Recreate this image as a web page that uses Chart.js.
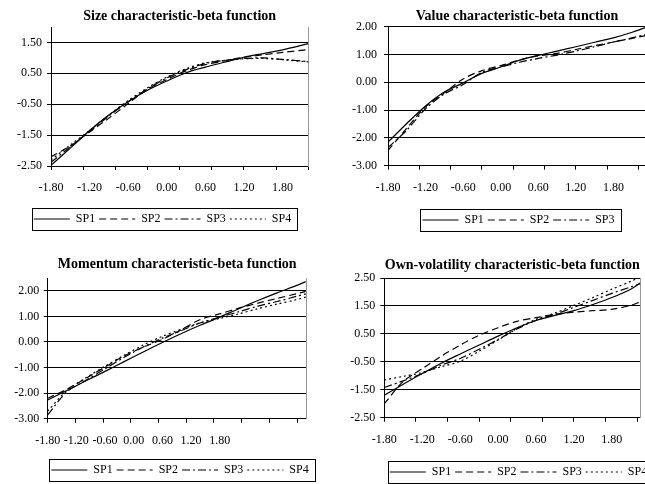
<!DOCTYPE html>
<html>
<head>
<meta charset="utf-8">
<script src="https://cdn.jsdelivr.net/npm/chart.js@4.4.1/dist/chart.umd.min.js"></script>
<style>
  html, body { margin: 0; padding: 0; background: #fff; }
  body { width: 645px; height: 484px; overflow: hidden; position: relative; }
  canvas { position: absolute; }
</style>
</head>
<body>
<canvas id="sizeChart" width="325" height="235" style="left:0;top:0"></canvas>
<canvas id="valueChart" width="393" height="236" style="left:322px;top:0"></canvas>
<canvas id="momChart" width="360" height="244" style="left:0;top:242px"></canvas>
<canvas id="volChart" width="393" height="246" style="left:322px;top:242px"></canvas>
<script>
// ---------------------- DATA ------------------------
const seriesNames = ["SP1", "SP2", "SP3", "SP4"];
const xLabels = ["-1.80", "-1.20", "-0.60", "0.00", "0.60", "1.20", "1.80"];

// Size
const sizeX   = [-1.8, -1.5, -1.2, -0.9, -0.6, -0.3, 0, 0.3, 0.6, 0.9, 1.2, 1.5, 1.8, 2.2];
const sizeSP1 = [-2.48, -1.92, -1.35, -0.85, -0.42, -0.05, 0.25, 0.52, 0.70, 0.86, 1.02, 1.14, 1.26, 1.46];
const sizeSP2 = [-2.20, -1.85, -1.40, -0.95, -0.48, -0.02, 0.30, 0.58, 0.78, 0.90, 1.02, 1.10, 1.18, 1.27];
const sizeSP3 = [-2.38, -1.88, -1.38, -0.88, -0.42, 0.00, 0.35, 0.62, 0.82, 0.92, 0.98, 1.00, 0.95, 0.88];
const sizeSP4 = [-2.30, -1.82, -1.35, -0.85, -0.38, 0.03, 0.38, 0.65, 0.84, 0.92, 0.97, 0.98, 0.94, 0.87];
const sizeTicks = [-2.5, -1.5, -0.5, 0.5, 1.5];

// Value
const valueX   = [-1.8, -1.5, -1.2, -0.9, -0.6, -0.3, 0, 0.3, 0.6, 0.9, 1.2, 1.5, 1.8, 2.1, 2.32];
const valueSP1 = [-2.15, -1.48, -0.85, -0.35, -0.02, 0.32, 0.55, 0.80, 0.97, 1.12, 1.28, 1.44, 1.60, 1.80, 1.98];
const valueSP2 = [-2.45, -1.65, -0.88, -0.38, 0.12, 0.42, 0.60, 0.80, 0.95, 1.04, 1.18, 1.32, 1.45, 1.58, 1.68];
const valueSP3 = [-2.35, -1.72, -0.95, -0.42, -0.08, 0.36, 0.55, 0.72, 0.86, 0.98, 1.12, 1.28, 1.45, 1.60, 1.72];
const valueTicks = [-3, -2, -1, 0, 1, 2];

// Momentum
const momX   = [-1.8, -1.4, -1.0, -0.6, -0.2, 0.2, 0.6, 1.0, 1.4, 1.8, 2.2, 2.6, 3.0, 3.4, 3.6];
const momSP1 = [-2.27, -1.90, -1.52, -1.15, -0.77, -0.39, -0.02, 0.33, 0.66, 0.97, 1.30, 1.62, 1.92, 2.20, 2.36];
const momSP2 = [-2.20, -1.85, -1.42, -0.98, -0.55, -0.20, 0.10, 0.48, 0.88, 1.10, 1.32, 1.52, 1.70, 1.88, 1.98];
const momSP3 = [-2.85, -1.95, -1.50, -1.05, -0.60, -0.20, 0.15, 0.45, 0.75, 0.97, 1.18, 1.40, 1.58, 1.78, 1.88];
const momSP4 = [-2.70, -1.90, -1.40, -0.95, -0.52, -0.12, 0.22, 0.50, 0.75, 0.92, 1.10, 1.30, 1.48, 1.65, 1.75];
const momTicks = [-3, -2, -1, 0, 1, 2];

// Own-volatility
const volX   = [-1.8, -1.5, -1.2, -0.9, -0.6, -0.3, 0, 0.3, 0.6, 0.9, 1.2, 1.5, 1.8, 2.1, 2.25];
const volSP1 = [-1.70, -1.30, -0.92, -0.55, -0.22, 0.10, 0.42, 0.72, 0.98, 1.16, 1.33, 1.55, 1.80, 2.10, 2.32];
const volSP2 = [-2.00, -1.20, -0.75, -0.30, 0.10, 0.45, 0.72, 0.95, 1.08, 1.20, 1.28, 1.33, 1.38, 1.52, 1.65];
const volSP3 = [-1.42, -1.18, -0.92, -0.62, -0.38, -0.05, 0.30, 0.68, 0.98, 1.20, 1.45, 1.70, 1.95, 2.18, 2.30];
const volSP4 = [-1.15, -1.02, -0.88, -0.68, -0.48, -0.12, 0.28, 0.70, 1.02, 1.25, 1.52, 1.80, 2.10, 2.38, 2.55];
const volTicks = [-2.5, -1.5, -0.5, 0.5, 1.5, 2.5];

// ---------------------- STYLE / LAYOUT ------------------------
const dashes = [[], [7, 4], [8, 3, 2, 3], [2, 3]];
const SERIF = '"Liberation Serif", "Times New Roman", serif';
Chart.defaults.font.family = SERIF;
Chart.defaults.font.size = 12;
Chart.defaults.color = "#000";

const panels = [
  { id: "sizeChart", title: "Size characteristic-beta function", x: sizeX,
    series: [sizeSP1, sizeSP2, sizeSP3, sizeSP4], yTicks: sizeTicks, yMin: -2.5, yMax: 2.0,
    xMax: 2.2, xStep: 0.5, yW: 51, rightW: 16.7, xH: 43, yPad: 5, titlePad: { top: 7.6, bottom: 2.6 } },
  { id: "valueChart", title: "Value characteristic-beta function", x: valueX,
    series: [valueSP1, valueSP2, valueSP3], yTicks: valueTicks, yMin: -3, yMax: 2,
    xMax: 2.32, xStep: 0.5, yW: 66, rightW: 69, xH: 44.3, yPad: 7, titlePad: { top: 7.6, bottom: 2.3 } },
  { id: "momChart", title: "Momentum characteristic-beta function", x: momX,
    series: [momSP1, momSP2, momSP3, momSP4], yTicks: momTicks, yMin: -3, yMax: 2.5,
    xMax: 3.62, xStep: 0.58, yW: 47.7, rightW: 53.3, xH: 41.3, yPad: 4.4, titlePad: { top: 13.6, bottom: 5.6 } },
  { id: "volChart", title: "Own-volatility characteristic-beta function", x: volX,
    series: [volSP1, volSP2, volSP3, volSP4], yTicks: volTicks, yMin: -2.5, yMax: 2.5,
    xMax: 2.25, xStep: 0.5, yW: 62.3, rightW: 74.7, xH: 44.3, yPad: 5, titlePad: { top: 14.6, bottom: 4.6 } },
];

// box round the legend, like the Excel one
const legendFrame = {
  id: "legendFrame",
  afterDraw(chart) {
    const boxes = chart.legend && chart.legend.legendHitBoxes;
    if (!boxes || !boxes.length) return;
    const first = boxes[0];
    const last = boxes[boxes.length - 1];
    const cy = first.top + first.height / 2;
    const x0 = Math.round(first.left - 2) + 0.5;
    const x1 = Math.round(last.left + last.width + 6) + 0.5;
    const y0 = Math.round(cy - 11) + 0.5;
    const ctx = chart.ctx;
    ctx.save();
    ctx.strokeStyle = "#000";
    ctx.lineWidth = 1;
    ctx.setLineDash([]);
    ctx.strokeRect(x0, y0, x1 - x0, 22);
    ctx.restore();
  },
};

const near = (a, b) => Math.abs(a - b) < 1e-6;

// legend items drawn as line samples with the dataset's dash
function legendLabels(chart) {
  const base = Chart.defaults.plugins.legend.labels.generateLabels(chart);
  return base.map((item, i) => {
    const ds = chart.data.datasets[item.datasetIndex !== undefined ? item.datasetIndex : i];
    return Object.assign({}, item, {
      lineDash: ds.borderDash,
      lineWidth: ds.borderWidth,
      strokeStyle: "#000",
      fillStyle: "#000",
      pointStyle: "line",
    });
  });
}

function buildChart(p) {
  // tick marks every xStep, labels at their own values
  const marks = [];
  for (let k = 0; -1.8 + k * p.xStep <= p.xMax + 1e-9; k++) marks.push(+(-1.8 + k * p.xStep).toFixed(4));
  const labelVals = xLabels.map(parseFloat);
  const allTicks = marks.concat(labelVals.filter(v => !marks.some(m => near(m, v)))).sort((a, b) => a - b);

  const datasets = p.series.map((ys, i) => ({
    label: seriesNames[i],
    data: p.x.map((x, j) => ({ x: x, y: ys[j] })),
    borderColor: "#000",
    backgroundColor: "#000",
    borderWidth: 1.2,
    borderDash: dashes[i],
    pointRadius: 0,
    tension: 0.3,
    fill: false,
  }));

  return new Chart(document.getElementById(p.id), {
    type: "line",
    data: { datasets: datasets },
    plugins: [legendFrame],
    options: {
      responsive: false,
      animation: false,
      events: [],
      layout: { padding: 0 },
      plugins: {
        title: {
          display: true,
          text: p.title,
          fullSize: false,
          color: "#000",
          font: { family: SERIF, size: 14, weight: "bold" },
          padding: p.titlePad,
        },
        legend: {
          position: "bottom",
          labels: {
            color: "#000",
            font: { family: SERIF, size: 12 },
            usePointStyle: true,
            pointStyle: "line",
            pointStyleWidth: 36,
            padding: 4,
            generateLabels: legendLabels,
          },
        },
        tooltip: { enabled: false },
      },
      scales: {
        x: {
          type: "linear",
          min: -1.8,
          max: p.xMax,
          afterBuildTicks: s => { s.ticks = allTicks.map(v => ({ value: v })); },
          afterFit: s => { s.height = p.xH; },
          grid: {
            display: true,
            drawOnChartArea: false,
            drawTicks: true,
            tickLength: 4,
            lineWidth: 1,
            tickColor: c => (c.tick && marks.some(m => near(m, c.tick.value)) ? "#000" : "rgba(0,0,0,0)"),
          },
          border: { display: true, color: "#000", width: 1 },
          ticks: {
            autoSkip: false,
            maxRotation: 0,
            padding: 11,
            color: "#000",
            callback: v => {
              const lab = xLabels.find(t => near(parseFloat(t), v));
              return lab === undefined ? "" : lab;
            },
          },
        },
        y: {
          min: p.yMin,
          max: p.yMax,
          afterBuildTicks: s => { s.ticks = p.yTicks.map(v => ({ value: v })); },
          afterFit: s => { s.width = p.yW; },
          grid: { color: "#000", lineWidth: 1, drawTicks: true, tickLength: 4, tickColor: "#000" },
          border: { display: true, color: "#000", width: 1 },
          ticks: { padding: p.yPad, color: "#000", callback: v => Number(v).toFixed(2) },
        },
        yRight: {
          type: "linear",
          position: "right",
          afterFit: s => { s.width = p.rightW; },
          grid: { display: false, drawTicks: false },
          ticks: { display: false },
          border: { display: true, color: "#999", width: 1 },
        },
      },
    },
  });
}

window.addEventListener("DOMContentLoaded", () => {
  panels.forEach(buildChart);
});
</script>
</body>
</html>
